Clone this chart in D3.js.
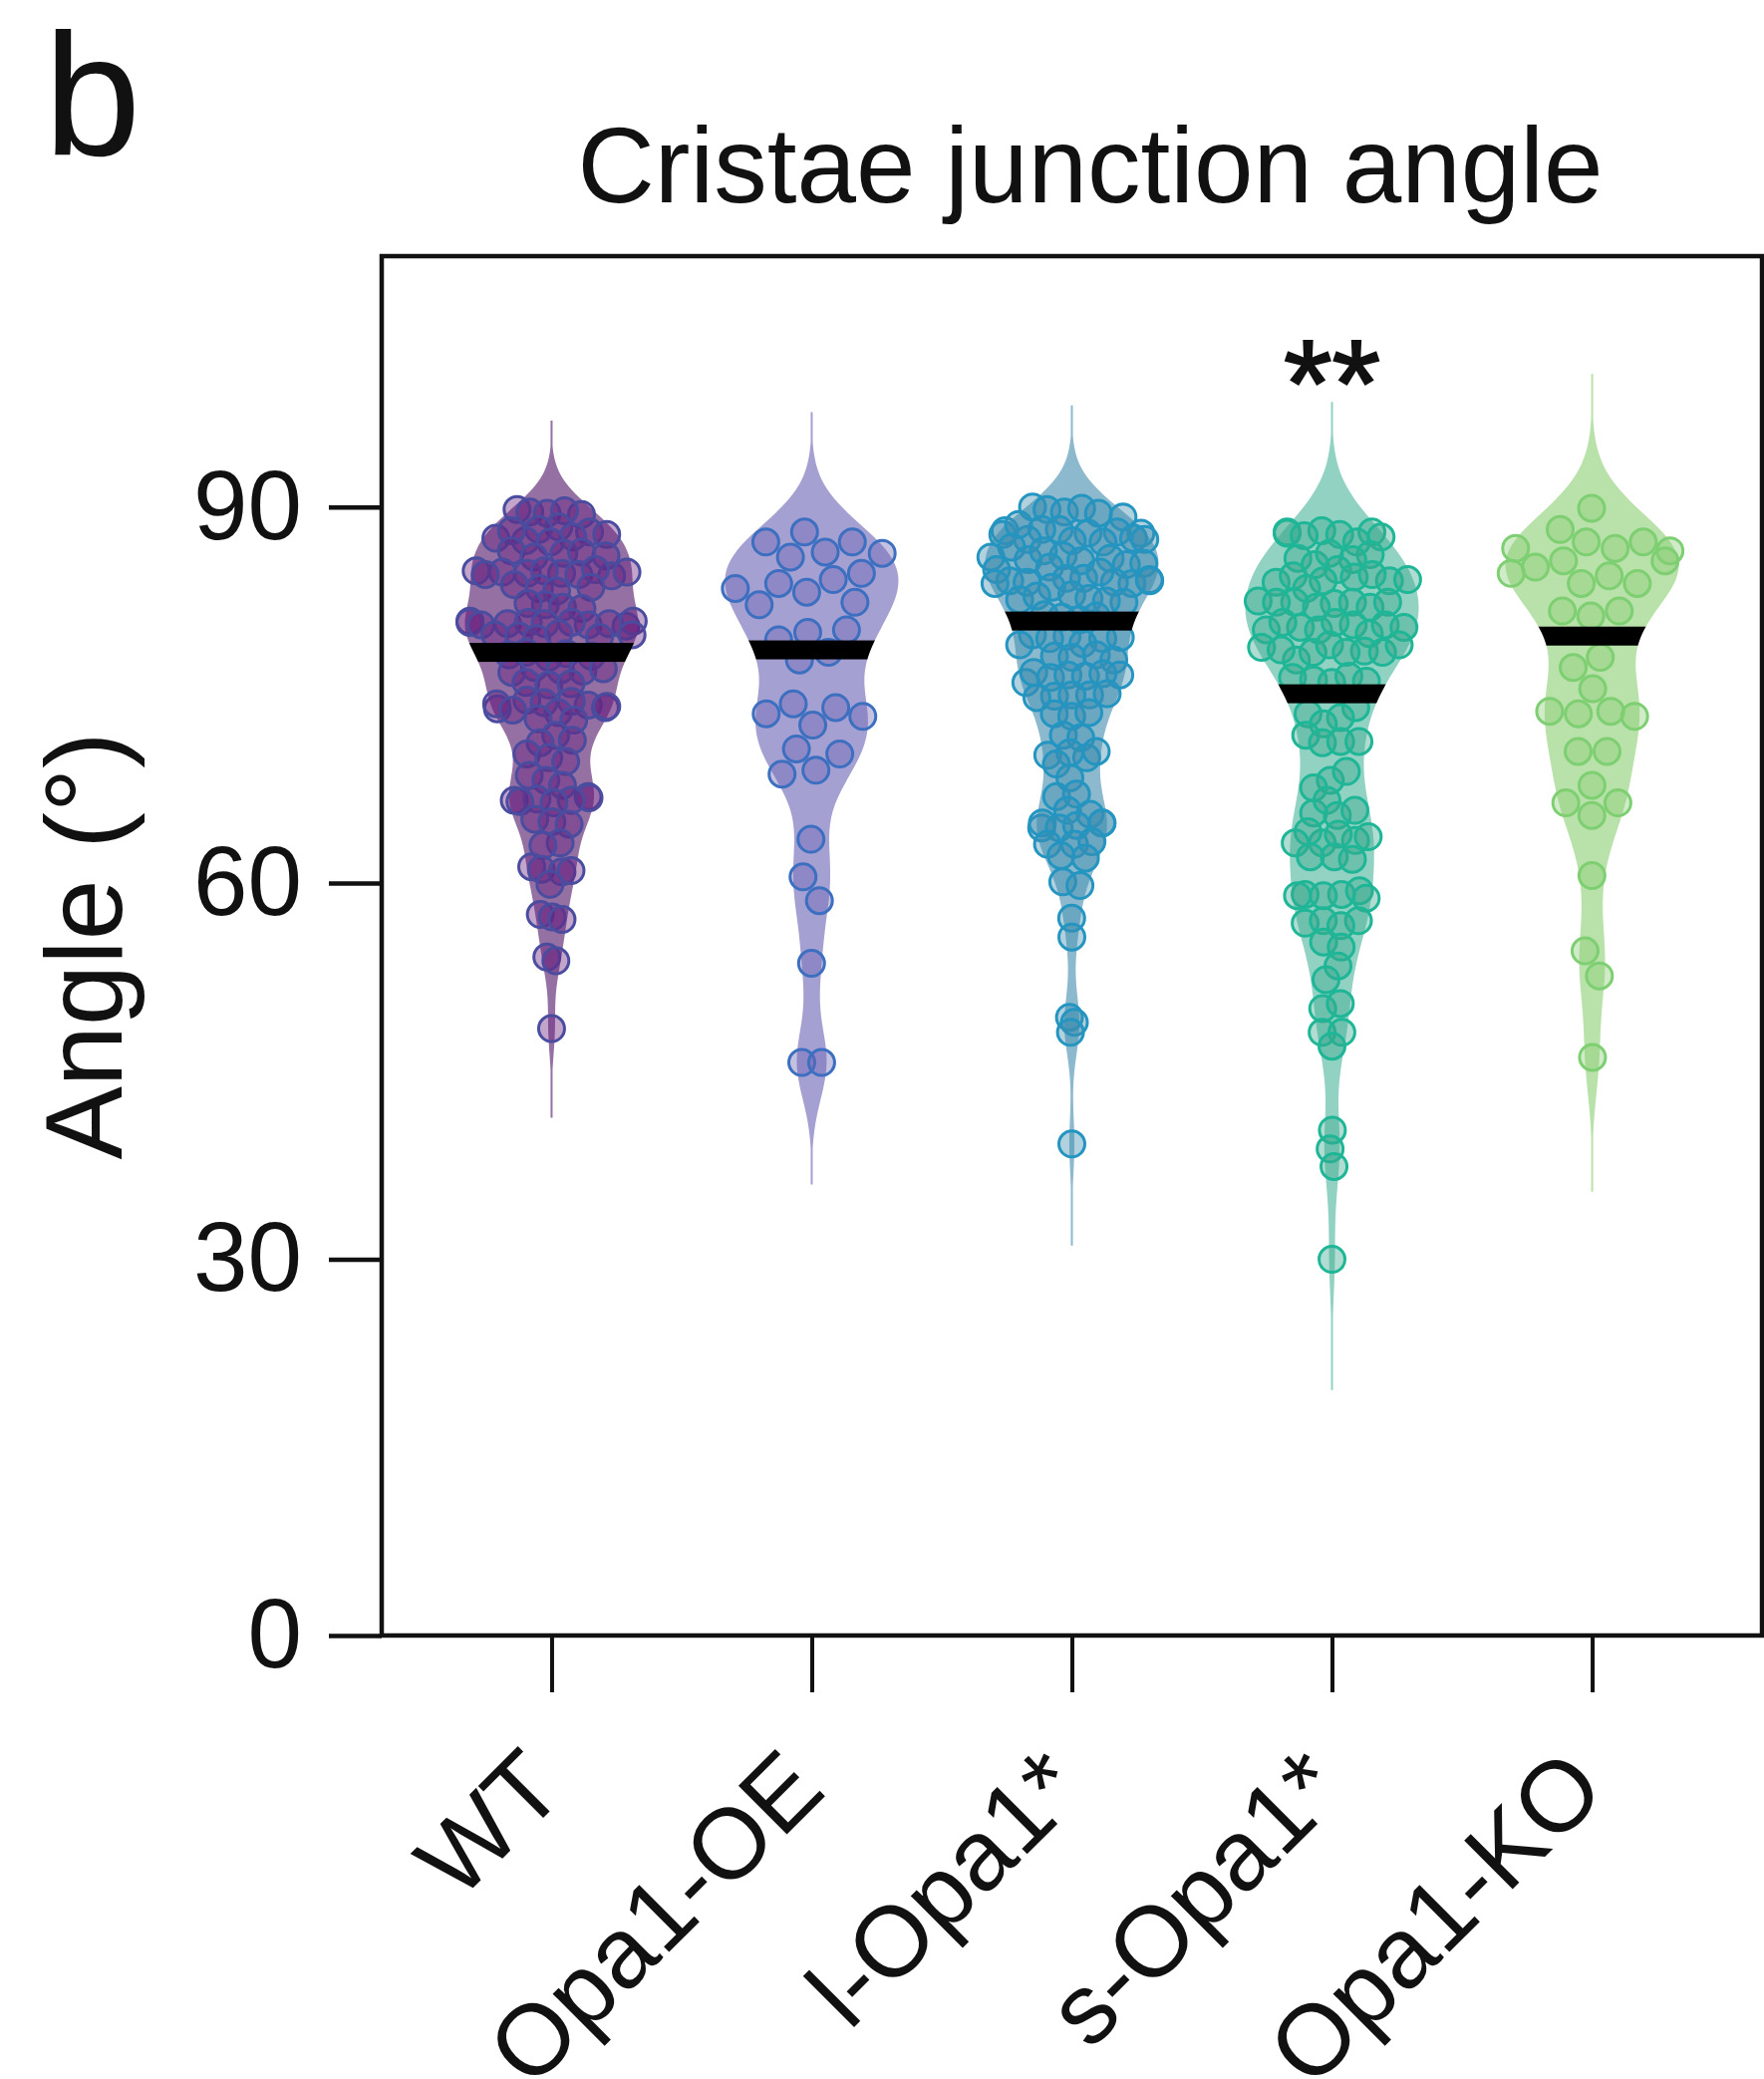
<!DOCTYPE html>
<html>
<head>
<meta charset="utf-8">
<script src="https://cdn.jsdelivr.net/npm/d3@7"></script>
<style>
body { margin: 0; background: #fff; }
svg { display: block; }
text { font-family: "Liberation Sans", Arial, Helvetica, sans-serif; fill: #111; }
</style>
</head>
<body>
<script>
// Data (angle in degrees)
var groups = ["WT", "Opa1-OE", "l-Opa1*", "s-Opa1*", "Opa1-KO"];

var wtValues = [89.8, 89.6, 89.5, 89.4, 89.7,
  88.4, 88.2, 88.0, 87.8, 87.5, 87.3, 87.6, 88.1, 87.2,
  86.5, 86.3, 86.1, 86.4, 86.0,
  84.9, 84.8, 84.7, 84.7, 84.6, 84.5, 85.0, 84.8, 84.6, 84.9,
  83.8, 83.5, 83.3, 83.6,
  82.2, 82.0, 81.9, 82.3,
  80.9, 80.8, 80.7, 80.6, 80.8, 80.5, 80.7, 80.9, 80.6, 80.8, 80.7,
  79.8, 79.7, 79.5, 79.9, 79.6, 79.8,
  78.4, 78.2, 78.0, 78.3, 78.1,
  77.2, 77.0, 76.9, 77.1, 76.8,
  76.0, 75.8, 75.9,
  74.6, 74.4, 74.2, 74.0, 74.1, 73.9, 74.3, 74.5, 73.8, 73.6,
  73.1, 73.0,
  71.8, 71.4, 71.2,
  70.3, 70.0, 69.7,
  68.6, 68.2, 67.8,
  66.9, 66.8, 66.6, 66.7, 66.5, 66.6, 66.4,
  65.1, 64.9, 64.7,
  63.2, 63.0,
  61.3, 61.1, 60.9, 61.0,
  59.9,
  57.5, 57.3, 57.1,
  54.1, 53.8,
  48.4];

var oeValues = [88.0, 87.2, 87.2, 86.0, 86.4, 86.3, 84.2, 84.7, 82.4, 82.2, 83.5,
  83.9, 83.2, 79.4, 80.0, 80.2, 77.8, 78.4, 74.3, 73.5, 74.0, 72.6, 73.3,
  70.7, 68.7, 69.0, 70.3, 63.5, 60.5, 58.6, 53.6, 45.7, 45.7];

var lOpaValues = [90.0, 89.8, 89.6, 89.9, 89.5, 89.2,
  88.2, 88.0, 87.9, 88.1, 87.8, 88.2, 87.9, 87.4, 87.3, 87.2, 87.5, 87.4, 88.6, 86.8,
  86.0, 85.8, 86.1, 85.7, 85.9, 85.4, 85.5, 85.0, 86.5, 85.2,
  84.1, 83.9, 84.3, 84.0, 84.2, 84.1, 83.9, 84.0, 84.3, 84.8, 83.6, 83.0,
  82.7, 82.4, 82.5, 82.6, 82.9,
  81.4, 81.2, 81.0, 81.3,
  79.7, 79.5, 79.6, 79.8, 79.5, 79.0, 79.1,
  78.1, 78.0, 78.2, 77.8,
  76.6, 76.0, 76.8, 76.4, 76.6, 76.5, 76.7,
  74.9, 75.0, 75.1, 74.8, 75.0,
  73.5, 73.3, 73.6,
  71.8, 71.6,
  70.0, 70.5, 70.2, 70.4, 69.5,
  68.4,
  66.9, 67.1,
  65.8, 65.5,
  64.8, 64.4, 64.8, 64.4, 64.6, 64.8,
  63.1, 63.1, 63.3,
  62.0, 62.2,
  60.1, 59.8,
  57.2, 55.7,
  49.3, 48.9, 48.1,
  39.2];

var sOpaValues = [88.0, 87.9, 88.1, 87.7, 87.8, 88.0, 87.6, 87.2,
  86.2, 85.9, 85.4, 86.3, 85.8, 85.0,
  84.1, 84.4, 84.6, 84.2, 84.0, 84.5, 84.1, 83.5,
  82.4, 82.3, 82.4, 82.0, 82.4, 82.5, 82.4, 82.0,
  80.4, 80.2, 80.6, 79.9, 80.6, 80.4, 80.2, 80.8, 80.8,
  77.8, 78.4, 79.0, 78.5, 78.4, 79.0, 78.8, 78.6, 78.4,
  76.4, 76.2, 76.0, 76.5, 76.1,
  74.0, 73.5, 73.2, 72.7,
  71.8, 71.2, 71.3, 71.3,
  68.2, 68.9, 67.6,
  65.6, 66.6, 65.4, 65.8,
  63.2, 63.4, 63.9, 63.7, 64.1, 63.2,
  62.1, 62.1, 61.9,
  59.1, 59.1, 59.4, 58.8, 59.0, 59.0,
  56.8, 57.0, 57.0, 56.6,
  55.3, 54.9,
  53.4, 52.3,
  50.0, 50.4,
  48.1, 48.1, 47.0,
  40.3, 38.8, 37.4, 30.0];

var koValues = [89.9, 88.2, 85.7, 86.7, 87.2, 87.2, 86.7, 86.5, 85.7, 85.2, 84.7,
  84.5, 83.9, 83.9, 81.7, 81.3, 81.7, 78.0, 77.2, 75.5, 73.7, 73.5, 73.3,
  73.7, 70.5, 70.5, 67.8, 66.4, 66.4, 65.4, 60.6, 54.6, 52.6, 46.1];

var medians = [78.4, 78.6, 80.9, 75.1, 79.7];
var sigLabels = ["", "", "", "**", ""];
var yTicks = [0, 30, 60, 90];

var violinColors = ["#9470a3", "#a5a0d2", "#8cb9cd", "#91d2c3", "#b9e1aa"];
var dotColors = ["#6a1d7d", "#6f63b3", "#3b8db0", "#3aa88c", "#86cc72"];
var strokeColors = ["#4a4c9f", "#3d6fc0", "#2495c0", "#1fb697", "#7dcf72"];

var allValues = [wtValues, oeValues, lOpaValues, sOpaValues, koValues];

// Canvas
var W = 1770, H = 2086;
var pLeft = 383, pRight = 1768, pTop = 257, pBottom = 1641;

var svg = d3.select("body").append("svg")
  .attr("width", W)
  .attr("height", H);

var y = d3.scaleLinear().domain([0, 110]).range([pBottom, pTop]);
var x = d3.scalePoint().domain(groups).range([pLeft, pRight]).padding(0.653);

var maxHalf = 87;
var dotR = 13;

// Panel letter and title
svg.append("text")
  .attr("x", 44).attr("y", 155)
  .style("font-size", "175px")
  .text("b");

svg.append("text")
  .attr("x", 1094).attr("y", 203)
  .attr("text-anchor", "middle")
  .style("font-size", "107px")
  .text("Cristae junction angle");

var defs = svg.append("defs");

groups.forEach(function (g, gi) {
  var vals = allValues[gi];
  var cx = x(g);
  var sorted = vals.slice().sort(d3.ascending);
  var n = vals.length;
  var sd = d3.deviation(vals);
  var iqr = d3.quantile(sorted, 0.75) - d3.quantile(sorted, 0.25);
  // Silverman bandwidth, a bit tighter than the rule of thumb
  var h = 0.65 * 0.9 * Math.min(sd, iqr / 1.34) * Math.pow(n, -0.2);

  // kernel density
  var lo = d3.min(vals) - 3.3 * h, hi = d3.max(vals) + 3.3 * h;
  var grid = d3.range(lo, hi + 0.001, 0.2);
  var dens = grid.map(function (t) {
    return [t, d3.mean(vals, function (v) { return Math.exp(-0.5 * Math.pow((t - v) / h, 2)); })];
  });
  var dmax = d3.max(dens, function (d) { return d[1]; });
  var wScale = d3.scaleLinear().domain([0, dmax]).range([0, maxHalf]);
  var halfW = function (d) { return Math.max(1, wScale(d[1])); };

  var area = d3.area()
    .y(function (d) { return y(d[0]); })
    .x0(function (d) { return cx - halfW(d); })
    .x1(function (d) { return cx + halfW(d); })
    .curve(d3.curveBasis);

  var gg = svg.append("g").attr("class", "group");

  gg.append("path")
    .datum(dens)
    .attr("d", area)
    .style("fill", violinColors[gi]);

  defs.append("clipPath")
    .attr("id", "clip" + gi)
    .append("path")
    .datum(dens)
    .attr("d", area);

  // spread the dots sideways inside the violin
  var rc = dotR + 1.5;
  if (n > 40) rc = rc * Math.sqrt(40 / n);
  var nodes = vals.map(function (v, i) {
    return { v: v, x: cx + ((i % 9) - 4) * 3, y: y(v), fy: y(v) };
  });
  var sim = d3.forceSimulation(nodes)
    .force("x", d3.forceX(cx).strength(0.04))
    .force("c", d3.forceCollide(rc).strength(0.8))
    .stop();
  for (var k = 0; k < 300; k++) sim.tick();

  var hwAt = function (v) {
    var i = Math.max(0, Math.min(dens.length - 1, Math.round((v - lo) / 0.2)));
    return halfW(dens[i]);
  };
  nodes.forEach(function (nd) {
    var lim = Math.max(0, hwAt(nd.v) - 5);
    nd.x = Math.max(cx - lim, Math.min(cx + lim, nd.x));
  });

  gg.selectAll("circle")
    .data(nodes)
    .enter().append("circle")
    .attr("cx", function (d) { return d.x; })
    .attr("cy", function (d) { return d.y; })
    .attr("r", dotR)
    .style("fill", dotColors[gi])
    .style("fill-opacity", 0.4)
    .style("stroke", strokeColors[gi])
    .style("stroke-width", 3);

  // median bar, clipped to the violin outline
  gg.append("rect")
    .attr("clip-path", "url(#clip" + gi + ")")
    .attr("x", cx - maxHalf - 10)
    .attr("width", 2 * maxHalf + 20)
    .attr("y", y(medians[gi]) - 9.5)
    .attr("height", 19)
    .style("fill", "#000");

  if (sigLabels[gi]) {
    svg.append("text")
      .attr("x", cx).attr("y", 428)
      .attr("text-anchor", "middle")
      .style("font-size", "125px")
      .style("stroke", "#111")
      .style("stroke-width", 2)
      .text(sigLabels[gi]);
  }
});

// Frame
svg.append("rect")
  .attr("x", pLeft).attr("y", pTop)
  .attr("width", pRight - pLeft).attr("height", pBottom - pTop)
  .style("fill", "none")
  .style("stroke", "#111")
  .style("stroke-width", 4.5);

// Y axis
var yAxis = svg.append("g")
  .attr("transform", "translate(" + pLeft + ",0)")
  .call(d3.axisLeft(y).tickValues(yTicks).tickSize(53).tickPadding(27));
yAxis.select(".domain").remove();
yAxis.selectAll("line").style("stroke", "#111").style("stroke-width", 4.5);
yAxis.selectAll("text")
  .style("font-size", "98px")
  .style("font-family", "\"Liberation Sans\", Arial, sans-serif")
  .style("fill", "#111");

// X axis
var xAxis = svg.append("g")
  .attr("transform", "translate(0," + pBottom + ")")
  .call(d3.axisBottom(x).tickSize(57));
xAxis.select(".domain").remove();
xAxis.selectAll("line").style("stroke", "#111").style("stroke-width", 4);
xAxis.selectAll("text")
  .attr("y", null)
  .attr("dy", null)
  .attr("text-anchor", "end")
  .attr("transform", "translate(16,158) rotate(-45)")
  .style("font-size", "100px")
  .style("font-family", "\"Liberation Sans\", Arial, sans-serif")
  .style("fill", "#111");

// Y axis title
svg.append("text")
  .attr("transform", "translate(122," + ((pTop + pBottom) / 2) + ") rotate(-90)")
  .attr("text-anchor", "middle")
  .style("font-size", "110px")
  .text("Angle (°)");
</script>
</body>
</html>
